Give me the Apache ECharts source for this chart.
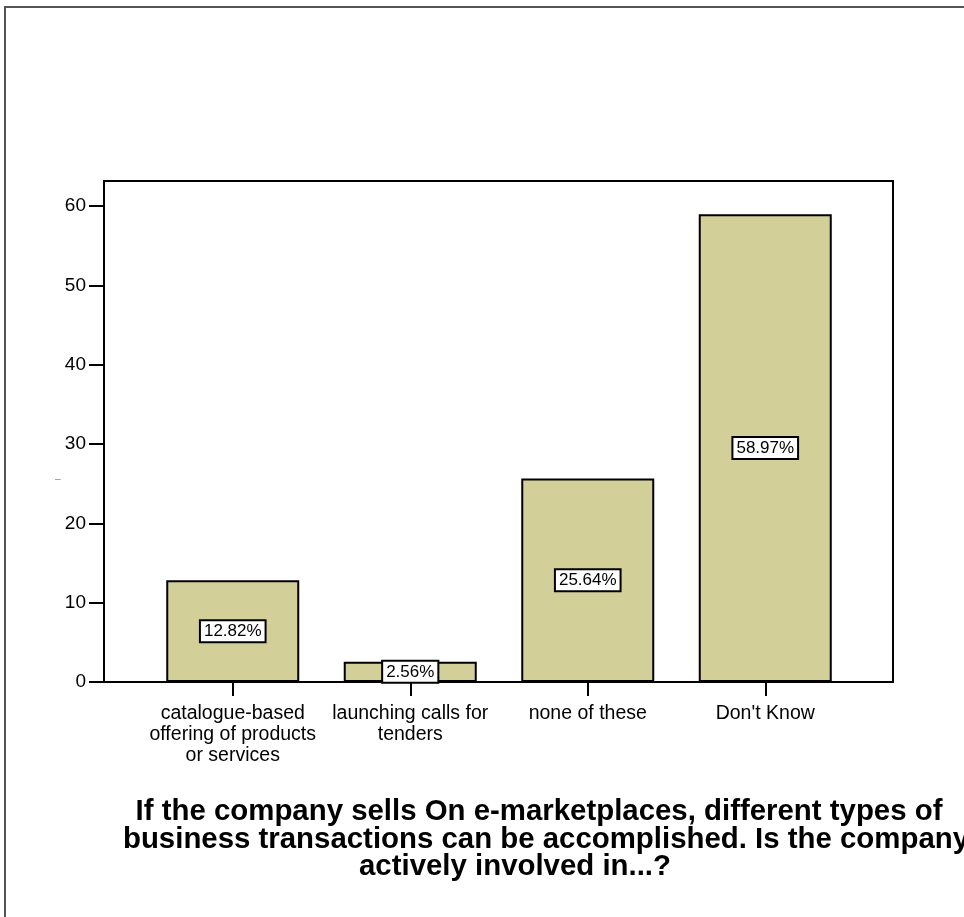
<!DOCTYPE html>
<html>
<head>
<meta charset="utf-8">
<script src="https://cdn.jsdelivr.net/npm/echarts@6/dist/echarts.min.js"></script>
<style>
  html, body { margin: 0; padding: 0; background: #fff; }
  #main { width: 964px; height: 917px; }
</style>
</head>
<body>
<div id="main"></div>
<script>
var categories = [
    'catalogue-based\noffering of products\nor services',
    'launching calls for\ntenders',
    'none of these',
    "Don't Know"
];
var percents = [12.82, 2.56, 25.64, 58.97];
var yTicks = [0, 10, 20, 30, 40, 50, 60];
var titleLines = [
    'If the company sells On e-marketplaces, different types of',
    'business transactions can be accomplished. Is the company',
    'actively involved in...?'
];

var fontName = 'Liberation Sans, Arial, sans-serif';

// title lines are centred a bit differently in the original, one title per line
var titleCenters = [539, 546, 515];
var titleTops = [797, 825, 852];
var titles = [];
for (var i = 0; i < titleLines.length; i++) {
    titles.push({
        text: titleLines[i],
        left: titleCenters[i],
        top: titleTops[i],
        textAlign: 'center',
        padding: 0,
        textStyle: {
            fontFamily: fontName,
            fontSize: 29.4,
            fontWeight: 'bold',
            color: '#000',
            lineHeight: 30
        }
    });
}

var myChart = echarts.init(document.getElementById('main'));
var option = {
    backgroundColor: '#fff',
    animation: false,
    textStyle: { fontFamily: fontName },
    title: titles,
    grid: {
        left: 144,
        right: 110,
        top: 206,
        bottom: 235
    },
    xAxis: {
        type: 'category',
        data: categories,
        axisLine: { show: true, lineStyle: { color: '#000', width: 2 } },
        axisTick: { show: true, alignWithLabel: true, length: 14, lineStyle: { color: '#000', width: 2 } },
        axisLabel: {
            color: '#000',
            fontSize: 19.5,
            lineHeight: 21,
            margin: 21,
            interval: 0
        }
    },
    yAxis: {
        type: 'value',
        min: yTicks[0],
        max: yTicks[yTicks.length - 1],
        interval: 10,
        offset: 40,
        splitLine: { show: false },
        axisLine: { show: true, lineStyle: { color: '#000', width: 2 } },
        axisTick: { show: true, length: 15, lineStyle: { color: '#000', width: 2 } },
        axisLabel: { color: '#000', fontSize: 19, margin: 18 }
    },
    graphic: [
        {
            type: 'rect',
            shape: { x: 104, y: 181, width: 789, height: 501 },
            style: { fill: null, stroke: '#000', lineWidth: 2 },
            z: 1
        },
        {
            type: 'polyline',
            shape: { points: [[5, 917], [5, 7], [964, 7]] },
            style: { fill: null, stroke: '#555', lineWidth: 2 }
        },
        {
            type: 'text',
            x: 55,
            y: 474,
            style: { text: '\u2013', fill: '#888', fontSize: 10, fontFamily: fontName }
        }
    ],
    series: [{
        type: 'bar',
        data: percents,
        barWidth: 133,
        itemStyle: {
            color: '#d3cf98',
            borderColor: '#000',
            borderWidth: 2
        },
        label: {
            show: true,
            position: 'inside',
            formatter: function (p) {
                return p.value.toFixed(2) + '%';
            },
            color: '#000',
            fontSize: 17,
            fontFamily: fontName,
            backgroundColor: '#fff',
            borderColor: '#000',
            borderWidth: 2,
            padding: [2, 3, 1, 3]
        },
        z: 3
    }]
};

myChart.setOption(option);
</script>
</body>
</html>
